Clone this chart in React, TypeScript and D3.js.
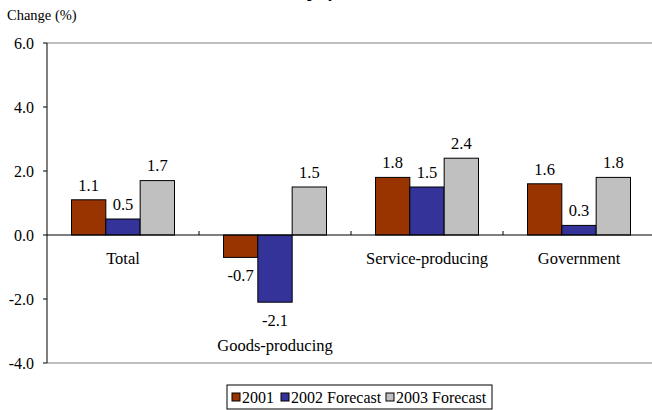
import React from "react";
import * as d3 from "d3";

const categories = ["Total", "Goods-producing", "Service-producing", "Government"];
const seriesNames = ["2001", "2002 Forecast", "2003 Forecast"];
const values2001 = [1.1, -0.7, 1.8, 1.6];
const values2002 = [0.5, -2.1, 1.5, 0.3];
const values2003 = [1.7, 1.5, 2.4, 1.8];
const yTicks = [-4, -2, 0, 2, 4, 6];
const colors = ["#993300", "#333399", "#C0C0C0"];

const series = [values2001, values2002, values2003];
const W = 652, H = 410;
const ts = { fontFamily: "Liberation Serif" };

export default function App() {
  const left = 47, right = 655, top = 43, bottom = 363;
  const x = d3.scaleBand<string>().domain(categories).range([left, right]).paddingInner(0).paddingOuter(0);
  const y = d3.scaleLinear().domain([-4, 6]).range([bottom, top]);
  const groupW = 103;
  const xs = d3.scaleBand<string>().domain(seriesNames).range([0, groupW]);
  const y0 = y(0);

  return (
    <svg width={W} height={H} style={{ position: "absolute", left: 0, top: 0, background: "#fff" }}>
      <rect width={W} height={H} fill="#fff" />
      <text x={283} y={-3} fontSize={16} fontWeight="bold" style={ts}>Employment</text>
      <text x={7} y={20} fontSize={14.5} style={ts}>Change (%)</text>
      {/* plot frame */}
      <line x1={left} x2={right} y1={top} y2={top} stroke="#808080" strokeWidth={1} />
      <line x1={left} x2={right} y1={bottom} y2={bottom} stroke="#808080" strokeWidth={1} />
      <line x1={left} x2={left} y1={top} y2={bottom} stroke="#000" strokeWidth={1} />
      {yTicks.map((t) => (
        <g key={t}>
          <line x1={left - 4} x2={left} y1={y(t)} y2={y(t)} stroke="#000" />
          <text x={34} y={y(t)} dy="0.35em" textAnchor="end" fontSize={16} style={ts}>{t.toFixed(1)}</text>
        </g>
      ))}
      {categories.map((c, ci) => {
        const gx = (x(c) as number) + (x.bandwidth() - groupW) / 2;
        return (
          <g key={c}>
            {series.map((vals, si) => {
              const v = vals[ci];
              const bx = gx + (xs(seriesNames[si]) as number);
              const bw = xs.bandwidth();
              const yTop = Math.min(y(v), y0);
              const h = Math.abs(y(v) - y0);
              const ly = v >= 0 ? y(v) - 15 : y(v) + 18;
              return (
                <g key={si}>
                  <rect x={bx} y={yTop} width={bw} height={h} fill={colors[si]} stroke="#000" strokeWidth={1} />
                  <text x={bx + bw / 2} y={ly} dy="0.35em" textAnchor="middle" fontSize={16.5} style={ts}>{v.toFixed(1)}</text>
                </g>
              );
            })}
          </g>
        );
      })}
      {/* zero line and category ticks */}
      <line x1={left} x2={right} y1={y0} y2={y0} stroke="#000" />
      {categories.slice(1).map((c) => (
        <line key={c} x1={x(c) as number} x2={x(c) as number} y1={y0} y2={y0 - 4} stroke="#000" />
      ))}
      {categories.map((c, ci) => {
        const minV = Math.min(...series.map((s) => s[ci]));
        const ly = minV < 0 ? 345 : 258;
        return (
          <text key={c} x={(x(c) as number) + x.bandwidth() / 2} y={ly} dy="0.35em" textAnchor="middle" fontSize={16.5} style={ts}>{c}</text>
        );
      })}
      {/* legend */}
      <rect x={227} y={385} width={265} height={24} fill="#fff" stroke="#000" strokeWidth={1} />
      {(() => {
        const offsets = [5, 54, 159];
        return seriesNames.map((s, i) => (
          <g key={s}>
            <rect x={227 + offsets[i]} y={393} width={8} height={8} fill={colors[i]} stroke="#000" strokeWidth={1} />
            <text x={227 + offsets[i] + 10} y={397} dy="0.35em" fontSize={16} style={ts}>{s}</text>
          </g>
        ));
      })()}
    </svg>
  );
}
